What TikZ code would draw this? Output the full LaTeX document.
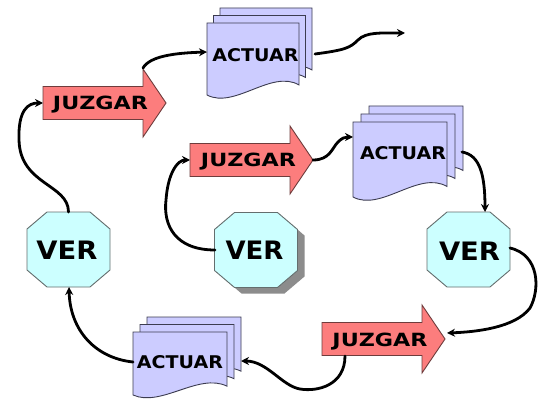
\documentclass[tikz,border=0pt]{standalone}
\usepackage{fontspec}
\usepackage{graphicx}
\setmainfont{DejaVu Sans}
\usetikzlibrary{arrows.meta}
\definecolor{jfill}{RGB}{252,125,125}
\definecolor{jline}{RGB}{110,60,60}
\definecolor{afill}{RGB}{204,204,255}
\definecolor{aline}{RGB}{60,60,80}
\definecolor{vfill}{RGB}{204,255,255}
\definecolor{vline}{RGB}{100,110,110}
\definecolor{shade}{RGB}{140,140,140}
\tikzset{
  jshape/.style={fill=jfill,draw=jline,line width=0.9pt,line join=miter},
  docshape/.style={fill=afill,draw=aline,line width=0.9pt},
  vshape/.style={fill=vfill,draw=vline,line width=0.9pt},
  lbl/.style={inner sep=0pt,anchor=base,font=\bfseries},
  conn/.style={line width=2.8pt,line cap=round,-{Stealth[length=8pt,width=8pt]}},
  freeconn/.style={line width=2.8pt,line cap=round,-{Stealth[length=8pt,width=8pt]}}
}
\newcommand\JShape[2]{%
  \filldraw[jshape] (#1,#2-16.5) -- (#1+100,#2-16.5) -- (#1+100,#2-34) -- (#1+123,#2)
    -- (#1+100,#2+34) -- (#1+100,#2+16.5) -- (#1,#2+16.5) -- cycle;}
\newcommand\OneDoc[4]{%
  \filldraw[docshape] (#1,#2) -- (#1+#3,#2) -- (#1+#3,#2+0.86*#4)
    .. controls (#1+0.7*#3,#2+0.64*#4) and (#1+0.3*#3,#2+1.2*#4) .. (#1,#2+#4) -- cycle;}
\newcommand\DocStack[6]{%
  \OneDoc{#1+2*#5}{#2-2*#6}{#3}{#4}%
  \OneDoc{#1+#5}{#2-#6}{#3}{#4}%
  \OneDoc{#1}{#2}{#3}{#4}}
\newcommand\OctShape[3][vshape]{%
  \filldraw[#1] (#2-21.5,#3-37.5) -- (#2+21.5,#3-37.5) -- (#2+41.5,#3-20.5) -- (#2+41.5,#3+20.5)
    -- (#2+21.5,#3+37.5) -- (#2-21.5,#3+37.5) -- (#2-41.5,#3+20.5) -- (#2-41.5,#3-20.5) -- cycle;}
\begin{document}
\begin{tikzpicture}[x=1pt,y=-1pt]
\useasboundingbox[fill=white] (0,0) rectangle (549,401);

% ---------- JUZGAR arrows ----------
\JShape{43}{103}
\JShape{190}{160}
\JShape{322}{339}
\node[lbl] (j1) at (100.5,110) {\resizebox{95pt}{13.5pt}{JUZGAR}};
\node[lbl] (j2) at (248.5,167) {\resizebox{95pt}{13.5pt}{JUZGAR}};
\node[lbl] (j3) at (380,346) {\resizebox{95pt}{13.5pt}{JUZGAR}};

% ---------- ACTUAR stacks ----------
\DocStack{207}{23}{92}{72}{6.5}{7.5}
\DocStack{353}{122}{94}{75}{8}{8}
\DocStack{133}{332}{94}{63}{7}{7.5}
\node[lbl] (a1) at (255.5,62) {\resizebox{86pt}{13pt}{ACTUAR}};
\node[lbl] (a2) at (403,160) {\resizebox{86pt}{13pt}{ACTUAR}};
\node[lbl] (a3) at (180,368) {\resizebox{86pt}{13pt}{ACTUAR}};

% ---------- VER octagons ----------
\OctShape{68.5}{249.5}
\OctShape[fill=shade,draw=none]{263}{256}
\OctShape{256}{250}
\OctShape{468.5}{249.5}
\node[lbl] (v1) at (67,259) {\resizebox{61pt}{18.5pt}{VER}};
\node[lbl] (v2) at (254.5,259) {\resizebox{58pt}{18.5pt}{VER}};
\node[lbl] (v3) at (469.5,260) {\resizebox{61pt}{18.5pt}{VER}};

% ---------- connector end points ----------
\coordinate (j1w) at (43,103);
\coordinate (j1h) at (143,68);
\coordinate (j2w) at (190,160);
\coordinate (j2t) at (313,160);
\coordinate (j3t) at (447,333);
\coordinate (j3b) at (345,356);
\coordinate (a1w) at (207,52);
\coordinate (a1e) at (315,54);
\coordinate (a2w) at (353,137);
\coordinate (a2e) at (462,152);
\coordinate (a3w) at (133,362);
\coordinate (a3e) at (241,361);
\coordinate (v1n) at (68.5,212);
\coordinate (v1s) at (69,287);
\coordinate (v2w) at (215,250);
\coordinate (v3n) at (485,212);
\coordinate (v3e) at (510,248);
\coordinate (out) at (405,33);

% ---------- connectors ----------
\draw[conn] (v1n) .. controls +(0,-28) and +(1,45) .. (19,140)
  .. controls +(-1,-30) and +(-15,0) .. (j1w);
\draw[conn] (j1h) .. controls +(7,-12) and +(-32,1) .. (a1w);
\draw[freeconn] (a1e) .. controls +(30,-4) and +(-8,8) .. (358,40)
  .. controls +(8,-8) and +(-25,0) .. (out);
\draw[conn] (v2w) .. controls +(-40,0) and +(-3,25) .. (166,200)
  .. controls +(2,-28) and +(-12,0) .. (j2w);
\draw[conn] (j2t) .. controls +(17,0) and +(-6,6) .. (338,142)
  .. controls +(4,-4) and +(-8,0) .. (a2w);
\draw[conn] (a2e) .. controls +(18,3) and +(0,-37) .. (v3n);
\draw[conn] (v3e) .. controls +(30,7) and +(10,-18) .. (530,308)
  .. controls +(-15,20) and +(28,-1) .. (j3t);
\draw[conn] (j3b) .. controls +(0,29) and +(18,3) .. (300,389)
  .. controls +(-18,-3) and +(26,0) .. (a3e);
\draw[conn] (a3w) .. controls +(-38,-4) and +(1,43) .. (v1s);
\end{tikzpicture}
\end{document}
